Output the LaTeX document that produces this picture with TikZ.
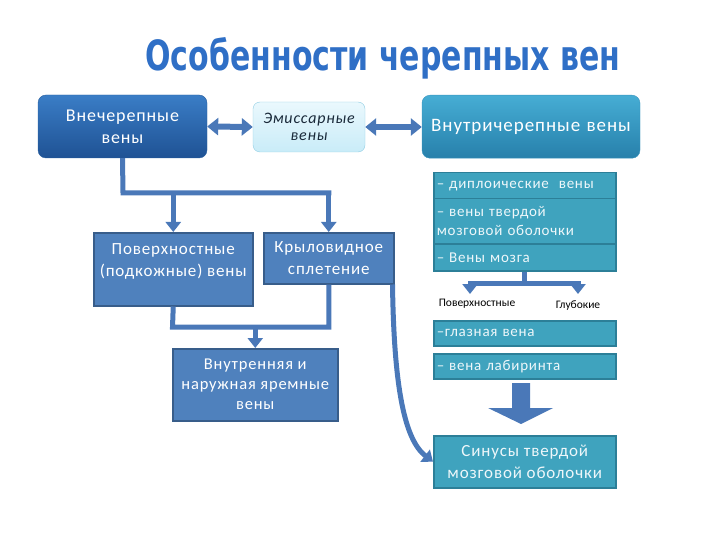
\documentclass[tikz,border=0pt]{standalone}
\usepackage{fontspec}
\setmainfont{Carlito}[LetterSpace=5]
\newfontfamily\plainfont{Carlito}
\newfontfamily\titlefont{DejaVu Sans}
\usetikzlibrary{arrows.meta,calc}
\definecolor{conn}{HTML}{4A78B8}
\definecolor{bluebox}{HTML}{4F81BD}
\definecolor{blueedge}{HTML}{385D8A}
\definecolor{tealbox}{HTML}{3FA3BE}
\definecolor{tealedge}{HTML}{2C7F98}
\definecolor{titleblue}{HTML}{2F6FC6}
\definecolor{dktop}{HTML}{3A7DC6}
\definecolor{dkbot}{HTML}{1F5294}
\definecolor{dkedge}{HTML}{2A5F9E}
\definecolor{lttop}{HTML}{EAF8FD}
\definecolor{ltbot}{HTML}{C9ECF8}
\definecolor{ltedge}{HTML}{8FCDE3}
\definecolor{lttext}{HTML}{1A2A3A}
\definecolor{tltop}{HTML}{46ADD4}
\definecolor{tlbot}{HTML}{2780AB}
\definecolor{tledge}{HTML}{3A95BF}
\definecolor{listtext}{HTML}{EEF7FA}
\begin{document}
\begin{tikzpicture}[x=1pt,y=-1pt,
  every node/.style={inner sep=2pt},
  dkbox/.style={rounded corners=8pt, top color=dktop, bottom color=dkbot, draw=dkedge, text=white, align=center, text width=160pt, font=\fontsize{18}{22}\selectfont},
  ltbox/.style={rounded corners=7pt, top color=lttop, bottom color=ltbot, draw=ltedge, text=lttext, align=center, text width=105pt, font=\fontsize{16}{17}\selectfont\itshape},
  tlbox/.style={rounded corners=8pt, top color=tltop, bottom color=tlbot, draw=tledge, text=white, align=center, text width=210pt, font=\fontsize{19}{22}\selectfont},
  bbox/.style={fill=bluebox, draw=blueedge, line width=1.5pt, text=white, align=center, font=\fontsize{17}{22}\selectfont},
  lbox/.style={fill=tealbox, draw=tealedge, line width=1.5pt, text=listtext, align=left, anchor=north west, text width=176pt, inner sep=3pt, font=\fontsize{15}{19}\selectfont},
  sbox/.style={fill=tealbox, draw=tealedge, line width=1.5pt, text=listtext, align=center, font=\fontsize{17}{22}\selectfont},
  plain/.style={text=black, font=\fontsize{11.5}{14}\plainfont},
  cline/.style={draw=conn, line width=5pt},
  carr/.style={draw=conn, line width=5pt, -{Triangle[width=15pt,length=10pt]}},
  darr/.style={draw=conn, line width=6pt, {Triangle[width=17pt,length=11pt]}-{Triangle[width=17pt,length=11pt]}},
]
\useasboundingbox (0,0) rectangle (720,540);

% title
\node[anchor=base, text=titleblue, inner sep=0pt] (title) at (383,71)
  {\resizebox{475pt}{33pt}{\titlefont\bfseries Особенности черепных вен}};

% top row
\node[dkbox, minimum width=169pt, minimum height=63pt] (A) at (122.5,126.5) {Внечерепные\\вены};
\node[ltbox, minimum width=112pt, minimum height=50pt] (B) at (309,127) {Эмиссарные\\вены};
\node[tlbox, minimum width=218pt, minimum height=63pt, anchor=north] (C) at (531,95) {Внутричерепные вены};

\draw[darr] (A.east) -- (B.west);
\draw[darr] (B.east) -- (C.west |- B.east);

% intracranial list
\node[lbox, minimum height=26pt] (L1) at (433,172) {– диплоические\ \ вены};
\node[lbox, minimum height=45pt] (L2) at (433,198) {– вены твердой\\мозговой оболочки};
\node[lbox, minimum height=27pt] (L3) at (433,243) {– Вены мозга};

\node[plain] (PV) at (477,304) {Поверхностные};
\node[plain] (GL) at (578,306) {Глубокие};
\coordinate (bus3) at (524,283);
\draw[cline] (L3.south -| bus3) -- (bus3);
\draw[carr] (470,283) ++(-2.5,0) -- ++(2.5,0) -- (470,294);
\draw[carr] (578,283) ++(2.5,0) -- ++(-2.5,0) -- (578,294);
\draw[cline] (470,283) -- (578,283);

\node[lbox, minimum height=25pt] (E1) at (433,320) {–глазная вена};
\node[lbox, minimum height=25pt] (E2) at (433,353) {– вена лабиринта};

\node[sbox, minimum width=182pt, minimum height=52pt, anchor=north west] (S) at (433,435) {Синусы твердой\\мозговой оболочки};

% big block arrow
\fill[conn] (512,383) -- (530,383) -- (530,408) -- (553,408) -- (521,424) -- (488,408) -- (512,408) -- cycle;

% extracranial side
\node[bbox, minimum width=159pt, minimum height=73pt, anchor=north west, text depth=18pt] (P) at (93,232) {Поверхностные\\(подкожные) вены};
\node[bbox, minimum width=130pt, minimum height=51pt, anchor=north west] (K) at (263,232) {Крыловидное\\сплетение};
\node[bbox, minimum width=165pt, minimum height=72pt, anchor=north west, font=\fontsize{16.5}{20}\selectfont] (J) at (172,348) {Внутренняя и\\наружная яремные\\вены};

\coordinate (bus1) at (123,193);
\draw[cline] (A.south) -- (bus1) -- (K.north |- bus1) ++(2.5,0) -- ++(-2.5,0);
\draw[carr] (K.north |- bus1) -- (K.north);
\draw[carr] (P.north |- bus1) -- (P.north);

\coordinate (bus2) at (172.5,327);
\draw[cline] (P.south) -- (bus2) -- (K.south |- bus2) -- (K.south);
\draw[carr] (J.north |- bus2) -- (J.north);

\draw[carr] ($(K.south east)+(-2,0)$) .. controls (394,390) and (405,440) .. (S.west);
\end{tikzpicture}
\end{document}
